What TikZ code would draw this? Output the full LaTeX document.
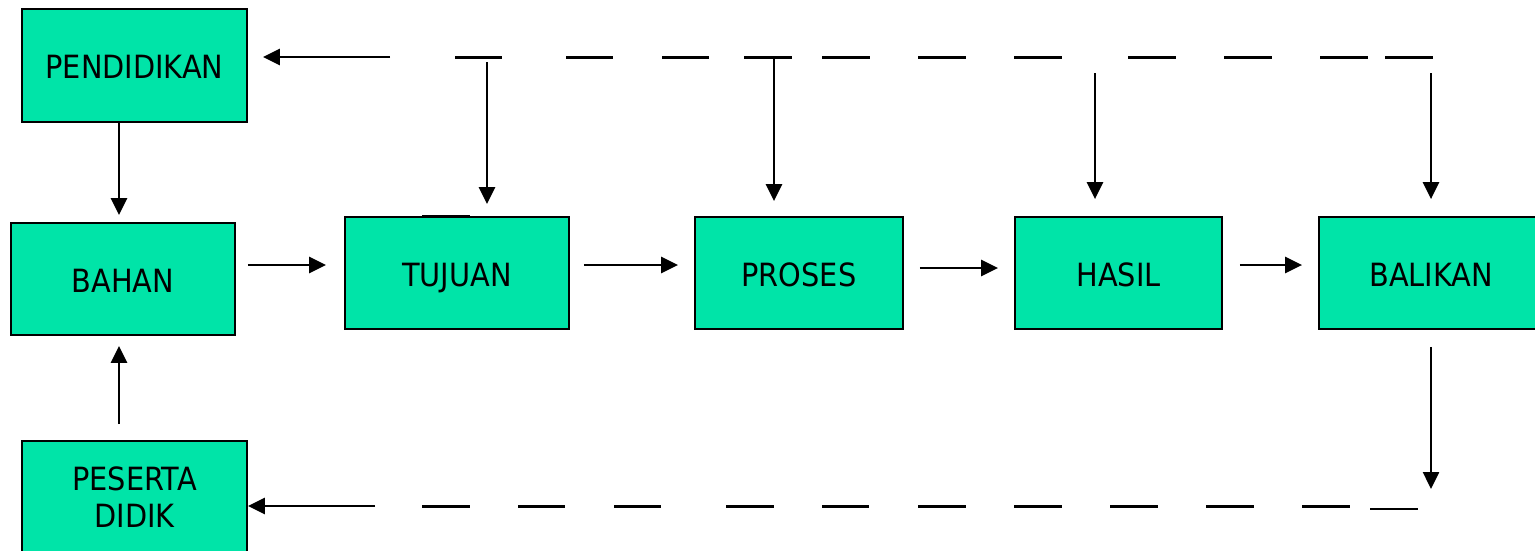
\documentclass[tikz,border=0pt]{standalone}
\usepackage{fontspec}
\setmainfont{DejaVu Sans Condensed}
\usetikzlibrary{arrows.meta}
\definecolor{boxgreen}{RGB}{0,228,168}
\tikzset{
  blk/.style={draw=black, line width=1.8pt, fill=boxgreen, inner sep=0pt, anchor=center,
              font=\fontsize{32}{37}\selectfont, align=center},
  one/.style={text height=26pt, text depth=0pt},
  arr/.style={line width=2.5pt, -{Triangle[length=17pt,width=16pt]}},
  dsh/.style={line width=3pt},
  thindsh/.style={line width=2.2pt}
}
\begin{document}
\begin{tikzpicture}[x=1pt,y=-1pt]
\useasboundingbox (0,0) rectangle (1535,550);
% boxes
\node[blk, one, minimum width=225pt, minimum height=113pt] (pend) at (134.5,65.5) {PENDIDIKAN};
\node[blk, one, minimum width=224pt, minimum height=112pt] (bahan) at (123,279) {BAHAN};
\node[blk, minimum width=225pt, minimum height=113pt] (pes) at (134.5,497.5) {PESERTA\\DIDIK};
\node[blk, one, minimum width=224pt, minimum height=112pt] (tuj) at (457,273) {TUJUAN};
\node[blk, one, minimum width=208pt, minimum height=112pt] (pros) at (799,273) {PROSES};
\node[blk, one, minimum width=207pt, minimum height=112pt] (hasil) at (1118.5,273) {HASIL};
\node[blk, one, minimum width=224pt, minimum height=112pt] (bal) at (1431,273) {BALIKAN};
% main flow
\draw[arr, shorten <=12pt, shorten >=18pt] (bahan.east |- 0,265) -- (tuj.west |- 0,265);
\draw[arr, shorten <=14pt, shorten >=16pt] (tuj.east |- 0,265) -- (pros.west |- 0,265);
\draw[arr, shorten <=16pt, shorten >=16pt] (pros.east |- 0,268) -- (hasil.west |- 0,268);
\draw[arr, shorten <=17pt, shorten >=16pt] (hasil.east |- 0,265) -- (bal.west |- 0,265);
\draw[arr, shorten >=7pt] (pend.south -| 119,0) -- (bahan.north -| 119,0);
\draw[arr, shorten <=16pt, shorten >=10pt] (pes.north -| 119,0) -- (bahan.south -| 119,0);
% top feedback line
\coordinate (tl) at (390,57);
\draw[arr, shorten >=15pt] (tl) -- (pend.east |- tl);
\foreach \a/\b in {455/502,566/613,662/709,744/792,822/870,918/966,1014/1062,1128/1176,1224/1272,1320/1368,1385/1433}
  \draw[dsh] (\a,57) -- (\b,57);
\draw[dsh] (422,216) -- (470,216);
\coordinate (d1) at (487,62);
\coordinate (d2) at (774,57);
\coordinate (d3) at (1095,73);
\coordinate (d4) at (1431,73);
\draw[arr, shorten >=12pt] (d1) -- (tuj.north -| d1);
\draw[arr, shorten >=15pt] (d2) -- (pros.north -| d2);
\draw[arr, shorten >=17pt] (d3) -- (hasil.north -| d3);
\draw[arr, shorten >=17pt] (d4) -- (bal.north -| d4);
% bottom feedback line
\coordinate (b0) at (1431,489);
\draw[arr, shorten <=17pt] (bal.south -| b0) -- (b0);
\coordinate (bl) at (375,506);
\draw[arr] (bl) -- (pes.east |- bl);
\foreach \a/\b in {422/470,518/565,614/661,726/774,822/869,918/966,1014/1062,1110/1158,1206/1254,1302/1350}
  \draw[dsh] (\a,506) -- (\b,506);
\draw[thindsh] (1370,509) -- (1418,509);
\end{tikzpicture}
\end{document}
